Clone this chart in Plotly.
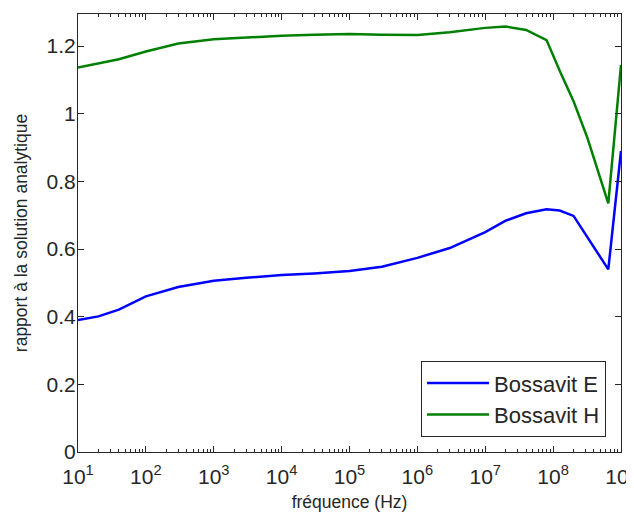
import plotly.graph_objects as go

freq = [10, 20, 40, 100, 300, 1e3, 3e3, 1e4, 3e4, 1e5, 3e5, 1e6, 3e6, 1e7,
        2e7, 4e7, 8e7, 1.25e8, 2e8, 3.2e8, 6.5e8, 1e9]
bossavit_e = [0.390, 0.401, 0.421, 0.460, 0.488, 0.506, 0.515, 0.523, 0.528, 0.535,
              0.548, 0.574, 0.603, 0.650, 0.684, 0.706, 0.718, 0.714, 0.698, 0.635,
              0.540, 0.890]
bossavit_h = [1.137, 1.149, 1.161, 1.184, 1.208, 1.220, 1.226, 1.231, 1.234, 1.236,
              1.234, 1.233, 1.241, 1.254, 1.258, 1.248, 1.218, 1.127, 1.037, 0.929,
              0.735, 1.144]
series_names = ["Bossavit E", "Bossavit H"]
x_tickvals = [1e1, 1e2, 1e3, 1e4, 1e5, 1e6, 1e7, 1e8, 1e9]
x_ticktext = ["10<sup>1</sup>", "10<sup>2</sup>", "10<sup>3</sup>", "10<sup>4</sup>",
              "10<sup>5</sup>", "10<sup>6</sup>", "10<sup>7</sup>", "10<sup>8</sup>",
              "10<sup>9</sup>"]
x_minor_vals = [m * d for d in x_tickvals[:-1] for m in range(2, 10)]
y_tickvals = [0, 0.2, 0.4, 0.6, 0.8, 1, 1.2]
y_ticktext = ["0", "0.2", "0.4", "0.6", "0.8", "1", "1.2"]

axis_color = "#262626"
fig = go.Figure()
fig.add_trace(go.Scatter(x=freq, y=bossavit_e, mode="lines", name=series_names[0],
                         line=dict(color="#0000FF", width=2.5)))
fig.add_trace(go.Scatter(x=freq, y=bossavit_h, mode="lines", name=series_names[1],
                         line=dict(color="#008000", width=2.5)))

# the page body adds an 8px offset, so the figure is sized to fill the rest of the window
font_family = "Liberation Sans, Arial, sans-serif"
fig.update_layout(
    width=626, height=505,
    margin=dict(l=70, r=13, t=6, b=61),
    paper_bgcolor="white", plot_bgcolor="white",
    font=dict(family=font_family, color=axis_color, size=13),
    legend=dict(x=0.9724, y=0.034, xanchor="right", yanchor="bottom",
                bgcolor="white", bordercolor=axis_color, borderwidth=1,
                font=dict(size=22, color=axis_color), tracegroupgap=0,
                itemwidth=62),
    showlegend=True,
)
fig.update_xaxes(
    type="log", range=[1, 9], tickmode="array", tickvals=x_tickvals, ticktext=x_ticktext,
    ticks="inside", ticklen=6, tickcolor=axis_color, showline=True, linecolor=axis_color,
    linewidth=1, mirror="ticks", showgrid=False, zeroline=False, automargin=False,
    ticklabeloverflow="allow", ticklabelstandoff=6,
    tickfont=dict(size=21, color=axis_color),
    minor=dict(tickmode="array", tickvals=x_minor_vals, ticks="inside", ticklen=3,
               tickcolor=axis_color, showgrid=False),
    title=dict(text="fréquence (Hz)", font=dict(size=17.5, color=axis_color), standoff=8),
)
fig.update_yaxes(
    range=[0, 1.295], tickmode="array", tickvals=y_tickvals, ticktext=y_ticktext,
    ticks="inside", ticklen=6, tickcolor=axis_color, showline=True, linecolor=axis_color,
    linewidth=1, mirror="ticks", showgrid=False, zeroline=False, automargin=False,
    ticklabeloverflow="allow", ticklabelstandoff=-3,
    tickfont=dict(size=21, color=axis_color),
    title=dict(text="rapport à la solution analytique",
               font=dict(size=17.5, color=axis_color), standoff=14),
)
fig.write_html("out.html")
